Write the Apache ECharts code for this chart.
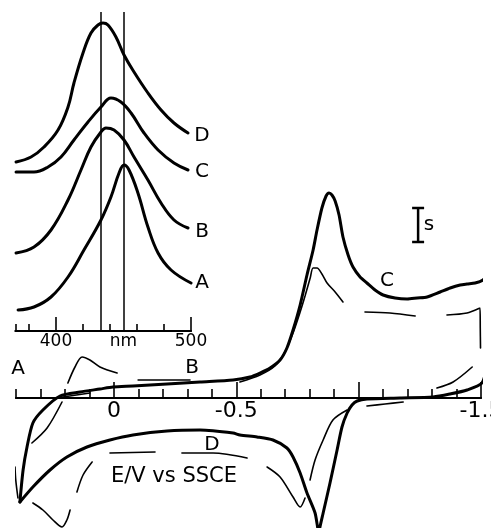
<!DOCTYPE html>
<html><head><meta charset="utf-8">
<style>html,body{margin:0;padding:0;background:#fff}#c{width:491px;height:528px}</style>
<script src="https://cdn.jsdelivr.net/npm/echarts@6/dist/echarts.min.js"></script>
</head><body><div id="c"></div>
<script>
// ---------- Inset: absorption spectra (x = wavelength / nm, y = arbitrary offset absorbance) ----------
const spectrumA = [[371.9,21],[383.7,24],[396.3,34],[408.9,54],[420.7,81],[433.3,111],[440.7,134],[446.7,158],[450.4,166],[454.1,161],[460.7,138],[468.1,104],[475.6,78],[485.2,61],[500,48]];
const spectrumB = [[370.4,78],[383.7,84],[396.3,101],[408.9,131],[418.5,161],[425.9,184],[433.3,199],[437,203],[443,201],[450.4,191],[457.8,174],[468.1,151],[477.8,128],[487.4,111],[497.8,103]];
const spectrumC = [[370.4,159],[383.7,159],[394.1,164],[403.7,174],[413.3,191],[423.7,209],[433.3,224],[440.7,233],[448.1,229],[455.6,218],[465.2,198],[475.6,181],[487.4,168],[497.8,161]];
const spectrumD = [[370.4,169],[381.5,174],[391.1,184],[401.5,201],[408.9,224],[413.3,248],[420,278],[425.9,298],[431.1,306],[434.8,308],[438.5,306],[444.4,294],[450.4,276],[457.8,259],[468.1,238],[477.8,221],[487.4,208],[497.8,198]];
const insetRefLines = [433.5, 450];
const insetMinorTicks = [370, 380, 420, 440, 460, 480];
const insetMajorTicks = [400, 500];
const insetTickLabels = [400, 450, 500];   // 450 position carries the unit "nm"

// ---------- Main: cyclic voltammogram (x = E / V vs SSCE, y = current, arbitrary units) ----------
const cvForward = [[0.384,-104],[0.371,-72],[0.355,-49],[0.331,-25],[0.290,-12],[0.220,2],[0.138,6],[0.057,9],[0.004,11],[-0.078,12],[-0.217,14],[-0.352,16],[-0.487,18],[-0.556,21],[-0.597,25],[-0.638,30],[-0.679,38],[-0.707,50],[-0.732,68],[-0.761,93],[-0.789,123],[-0.814,148],[-0.830,168],[-0.850,190],[-0.867,202],[-0.879,205],[-0.891,203],[-0.904,197],[-0.920,183],[-0.936,161],[-0.957,143],[-0.977,131],[-1.006,121],[-1.034,115],[-1.067,108],[-1.100,103],[-1.149,100],[-1.198,99],[-1.239,100],[-1.280,101],[-1.333,106],[-1.374,110],[-1.415,113],[-1.443,114],[-1.476,115],[-1.508,118],[-1.529,124],[-1.541,132],[-1.560,118],[-1.566,78]];
const cvReverse = [[-1.566,78],[-1.558,58],[-1.541,55],[-1.525,33],[-1.504,15],[-1.443,8],[-1.374,4],[-1.304,1],[-1.169,0],[-1.034,-1],[-0.994,-3],[-0.973,-7],[-0.953,-15],[-0.932,-29],[-0.912,-52],[-0.883,-85],[-0.855,-115],[-0.842,-129],[-0.838,-135],[-0.822,-115],[-0.789,-95],[-0.761,-75],[-0.732,-59],[-0.707,-50],[-0.650,-42],[-0.585,-39],[-0.515,-37],[-0.487,-35],[-0.352,-32],[-0.217,-33],[-0.078,-37],[0.016,-42],[0.110,-49],[0.192,-59],[0.261,-72],[0.331,-89],[0.384,-104]];
// second (thin, broken) voltammogram, as the visible stroke pieces
const cvThinPieces = [
  [[0.404,-69],[0.401,-82],[0.392,-100]],
  [[0.335,-45],[0.273,-30],[0.212,-4]],
  [[0.208,1],[0.098,5]],
  [[0.188,15],[0.159,31],[0.130,41],[0.098,38],[0.057,31],[-0.013,25]],
  [[-0.099,18],[-0.209,18],[-0.311,18]],
  [[-0.515,16],[-0.597,23],[-0.658,32],[-0.699,46],[-0.732,65],[-0.761,86],[-0.781,102],[-0.802,120],[-0.814,130],[-0.830,130],[-0.850,124],[-0.871,115],[-0.904,106],[-0.936,96]],
  [[-1.026,86],[-1.128,85],[-1.231,82]],
  [[-1.361,83],[-1.443,85],[-1.496,90],[-1.497,70],[-1.498,50]],
  [[-1.464,31],[-1.386,16],[-1.320,10]],
  [[-1.182,-4],[-1.108,-6],[-1.034,-8]],
  [[-0.953,-12],[-0.895,-22],[-0.855,-42],[-0.822,-62],[-0.8015,-82]],
  [[-0.781,-100],[-0.761,-109],[-0.732,-99],[-0.679,-79],[-0.626,-69]],
  [[-0.278,-55],[-0.405,-55],[-0.544,-60]],
  [[0.016,-55],[-0.168,-54]],
  [[0.089,-64],[0.126,-77],[0.151,-94]],
  [[0.179,-112],[0.192,-122],[0.212,-129],[0.249,-122],[0.290,-112],[0.331,-105]]
];
const scaleBar = [[-1.243,190],[-1.243,156]];
const mainMinorTicks = [0.4,0.3,0.2,0.1,-0.1,-0.2,-0.3,-0.4,-0.6,-0.7,-0.8,-0.9,-1.1,-1.2,-1.3,-1.4];
const mainMajorTicks = [0,-0.5,-1,-1.5];
const mainTickLabels = [0,-0.5,-1.5];

const FONT = 'DejaVu Sans';
const chart = echarts.init(document.getElementById('c'), null, {renderer:'canvas'});

function heavy(data, xi, yi, smooth) {
  return {type:'line', xAxisIndex:xi, yAxisIndex:yi, data, symbol:'none', clip:false, smooth:smooth,
          lineStyle:{color:'#000', width:3, cap:'round', join:'round'}, silent:true, z:4};
}
function thin(data) {
  return {type:'line', xAxisIndex:2, yAxisIndex:1, data, symbol:'none', clip:false, smooth:0.3,
          lineStyle:{color:'#000', width:1.6, cap:'round'}, silent:true, z:3};
}
function tickAxis(gridIndex, min, max, inverse, ticks, len, showLine, labels, labelSize) {
  return {type:'value', gridIndex, min, max, inverse, position:'bottom',
    axisLine:{show:showLine, onZero:false, lineStyle:{color:'#000', width:2}},
    axisTick:{show:true, inside:true, length:len, customValues:ticks, lineStyle:{color:'#000', width:1.6}},
    axisLabel: labels ? {show:true, customValues:labels, margin:2, color:'#000', fontFamily:FONT, fontSize:labelSize,
       hideOverlap:false, formatter: v => (gridIndex === 0 && v === 450) ? 'nm' : String(v)} : {show:false},
    splitLine:{show:false}};
}

const series = [
  heavy(spectrumA, 0, 0, 0.4), heavy(spectrumB, 0, 0, 0.4), heavy(spectrumC, 0, 0, 0.4), heavy(spectrumD, 0, 0, 0.4),
  heavy(cvForward, 2, 1, 0.25), heavy(cvReverse, 2, 1, 0.25),
  ...cvThinPieces.map(thin),
  {type:'line', xAxisIndex:2, yAxisIndex:1, data:scaleBar, symbol:'rect', symbolSize:[12,2.5], showSymbol:true, clip:false,
   itemStyle:{color:'#000'}, lineStyle:{color:'#000', width:2.5}, silent:true, z:4}
];
series[0].markLine = {silent:true, symbol:'none', label:{show:false},
  lineStyle:{color:'#000', width:1.5, type:'solid'}, data: insetRefLines.map(v => ({xAxis:v}))};

const txt = (t, x, y, size) => ({type:'text', x, y, z:10, silent:true,
  style:{text:t, fill:'#000', font:size + 'px "' + FONT + '"', align:'center', verticalAlign:'middle'}});

chart.setOption({
  animation:false,
  backgroundColor:'#fff',
  grid:[
    {left:15.5, top:12, width:175.5, height:319, outerBoundsMode:'none', containLabel:false},
    {left:16, top:180, width:465, height:218, outerBoundsMode:'none', containLabel:false}
  ],
  xAxis:[
    tickAxis(0, 370, 500, false, insetMinorTicks, 7, true, null),
    tickAxis(0, 370, 500, false, insetMajorTicks, 14, true, insetTickLabels, 17),
    tickAxis(1, -1.5, 0.4, true, mainMinorTicks, 9, true, null),
    tickAxis(1, -1.5, 0.4, true, mainMajorTicks, 16, true, mainTickLabels, 22)
  ],
  yAxis:[
    {type:'value', gridIndex:0, min:0, max:319, show:false},
    {type:'value', gridIndex:1, min:0, max:218, show:false}
  ],
  series,
  graphic:[
    txt('D', 202, 136, 20), txt('C', 202, 172, 20), txt('B', 202, 232, 20), txt('A', 202, 283, 20),
    txt('A', 18, 369, 20), txt('B', 192, 368, 20), txt('C', 387, 281, 20), txt('D', 212, 445, 20),
    txt('E/V vs SSCE', 174, 477, 21), txt('s', 429, 225, 20)
  ]
});
</script></body></html>
